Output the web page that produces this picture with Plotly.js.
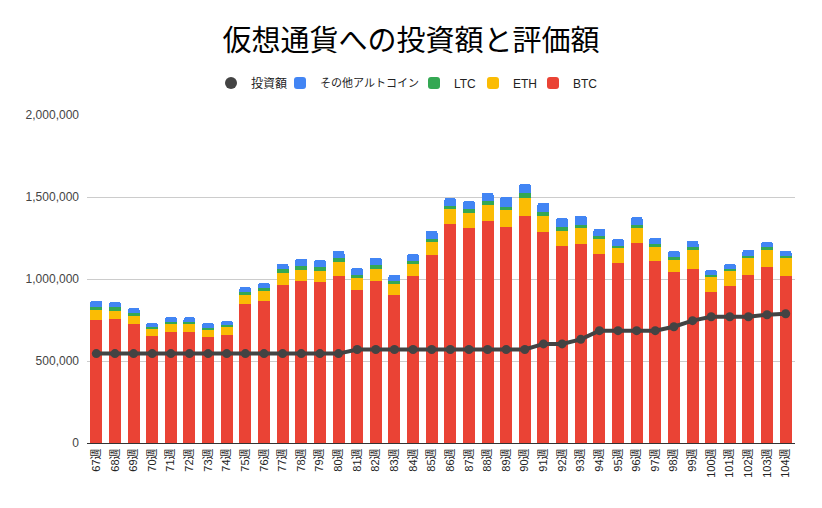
<!DOCTYPE html>
<html>
<head>
<meta charset="utf-8">
<script src="https://cdn.plot.ly/plotly-3.0.1.min.js"></script>
<style>html,body{margin:0;padding:0;background:#fff;}#chart{width:822px;height:508px;}</style>
</head>
<body>
<div id="chart"></div>
<script>
const weeks = ["67週","68週","69週","70週","71週","72週","73週","74週","75週","76週","77週","78週","79週","80週","81週","82週","83週","84週","85週","86週","87週","88週","89週","90週","91週","92週","93週","94週","95週","96週","97週","98週","99週","100週","101週","102週","103週","104週"];
const btc = [752000,758000,727000,654000,679000,677000,648000,660000,849000,868000,965000,990000,984000,1020000,935000,990000,904000,1020000,1148000,1337000,1313000,1356000,1319000,1386000,1289000,1203000,1215000,1154000,1100000,1221000,1112000,1045000,1063000,923000,959000,1026000,1075000,1020000];
const eth = [61000,49000,49000,43000,49000,49000,43000,49000,55000,61000,73000,67000,67000,85000,73000,73000,67000,73000,79000,91000,91000,98000,104000,110000,98000,91000,98000,91000,91000,91000,85000,73000,116000,91000,91000,104000,104000,110000];
const ltc = [18000,20000,18000,12000,12000,12000,12000,12000,18000,18000,20000,24000,24000,24000,18000,20000,18000,18000,18000,20000,24000,24000,18000,30000,24000,24000,18000,18000,12000,18000,18000,18000,18000,12000,12000,12000,18000,12000];
const other = [37000,35000,30000,24000,30000,30000,30000,24000,30000,30000,35000,43000,43000,43000,43000,47000,37000,43000,49000,47000,49000,49000,61000,55000,55000,55000,55000,43000,43000,49000,37000,37000,37000,30000,30000,37000,30000,30000];
const invested = [545000,545000,545000,545000,545000,545000,545000,545000,545000,545000,545000,545000,545000,545000,570000,570000,570000,570000,570000,570000,570000,570000,570000,570000,604000,604000,632000,685000,685000,685000,685000,709000,746000,770000,770000,770000,782000,788000];
const yTicks = [0,500000,1000000,1500000,2000000];
const yTickText = ["0","500,000","1,000,000","1,500,000","2,000,000"];

const FONT = "Liberation Sans, Arial, 'Noto Sans CJK JP', sans-serif";
const traces = [
  {type:"bar", name:"BTC", x:weeks, y:btc, marker:{color:"#ea4335"}, legend:"legend5"},
  {type:"bar", name:"ETH", x:weeks, y:eth, marker:{color:"#fbbc04"}, legend:"legend4"},
  {type:"bar", name:"LTC", x:weeks, y:ltc, marker:{color:"#34a853"}, legend:"legend3"},
  {type:"bar", name:"その他アルトコイン", x:weeks, y:other, marker:{color:"#4285f4"}, legend:"legend2"},
  {type:"scatter", mode:"lines+markers", name:"投資額", x:weeks, y:invested, showlegend:false, legendgroup:"inv",
   line:{color:"#434343", width:4}, marker:{color:"#434343", size:9}},
  {type:"scatter", mode:"markers", name:"投資額", x:[null], y:[null], legendgroup:"inv", legend:"legend",
   marker:{color:"#434343", size:12}}
];
function leg(leftPx, fs){
  return {orientation:"h", xref:"container", x:leftPx/822, xanchor:"left", yref:"container", y:1-83/508, yanchor:"middle",
          font:{family:FONT, size:fs || 12, color:"#222"}, itemwidth:30, bgcolor:"rgba(0,0,0,0)", borderwidth:0};
}
const layout = {
  width:822, height:508,
  margin:{l:87, r:27, t:115, b:65, autoexpand:false},
  paper_bgcolor:"#fff", plot_bgcolor:"#fff",
  font:{family:FONT, color:"#222", size:12},
  barmode:"stack", bargap:0.356, barcornerradius:3,
  title:{text:"仮想通貨への投資額と評価額", font:{family:"'Noto Sans CJK JP', sans-serif", size:29, color:"#000"},
         x:0.5, xanchor:"center", xref:"container", y:1-41/508, yref:"container", yanchor:"middle"},
  legend:leg(211), legend2:leg(280, 11), legend3:leg(414), legend4:leg(473), legend5:leg(533),
  xaxis:{type:"category", tickangle:-90, tickfont:{family:FONT, size:11, color:"#222"},
         showgrid:false, showline:true, linecolor:"#333", linewidth:1, ticks:"", automargin:false,
         range:[-0.5, 37.5]},
  yaxis:{range:[0,2000000], tickvals:yTicks, ticktext:yTickText, tickfont:{family:FONT, size:12, color:"#444"},
         showgrid:true, gridcolor:"#cccccc", gridwidth:1, zeroline:true, zerolinecolor:"#333", zerolinewidth:1,
         ticks:"", ticklabelstandoff:7, automargin:false, fixedrange:true}
};
Plotly.newPlot("chart", traces, layout, {displayModeBar:false, staticPlot:true});
</script>
</body>
</html>
